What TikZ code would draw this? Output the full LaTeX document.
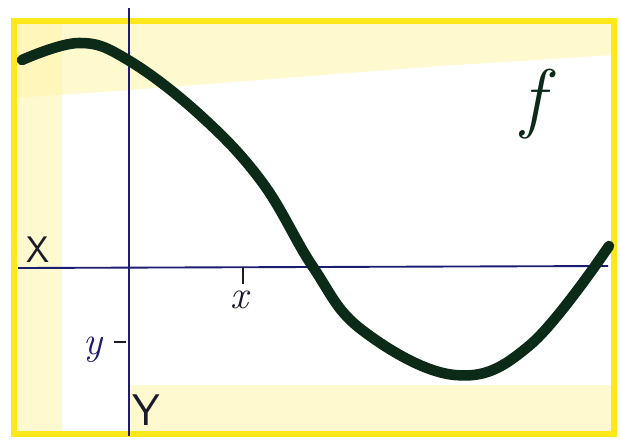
\documentclass[tikz,border=0pt]{standalone}
\usetikzlibrary{positioning}
\definecolor{frameYellow}{HTML}{FFE81A}
\definecolor{paleYellow}{HTML}{FFF5B0}
\definecolor{axisBlue}{HTML}{1C1C70}
\definecolor{curveGreen}{HTML}{0B2A18}
\definecolor{inkDark}{HTML}{1A1A2A}
\tikzset{
  framebox/.style={draw=frameYellow, line width=5pt},
  washband/.style={fill=paleYellow, draw=none, opacity=0.6},
  axisline/.style={draw=axisBlue, line width=1.6pt},
  tickline/.style={draw=inkDark, line width=1.8pt},
  curveline/.style={draw=curveGreen, line width=9pt, line cap=round, line join=round},
  axislabel/.style={font=\sffamily\fontsize{30}{32}\selectfont, text=inkDark, inner sep=0pt, scale=1.05},
  varlabel/.style={font=\itshape\fontsize{34}{36}\selectfont, inner sep=0pt},
}
\begin{document}
\begin{tikzpicture}[x=0.3mm, y=-0.3mm]
  \useasboundingbox (0,0) rectangle (621,439);
  \fill[white] (0,0) rectangle (621,439);
  % soft yellow wash of the paper
  \fill[washband] (14,21) rectangle (62,434);
  \fill[washband] (14,21) -- (614,21) -- (614,55) -- (440,66) -- (130,90) -- (14,98) -- cycle;
  \fill[washband] (130,385) -- (614,385) -- (614,434) -- (130,434) -- cycle;
  \draw[framebox] (14,21) rectangle (614,434);

  % axes
  \coordinate (xl) at (18,268);
  \coordinate (xr) at (608,266);
  \coordinate (yt) at (129,8);
  \coordinate (yb) at (129,436);
  \draw[axisline] (xl) -- (xr);
  \draw[axisline] (yt) -- (yb);

  % ticks
  \coordinate (xtick) at (243,267);
  \coordinate (xtickend) at (243,284);
  \coordinate (ytick) at (126,342);
  \coordinate (ytickend) at (114,342);
  \draw[tickline] (xtick) -- (xtickend);
  \draw[tickline] (ytick) -- (ytickend);

  \node[axislabel] (X) at (38,250) {X};
  \node[axislabel, scale=1.2] (Y) at (146,410) {Y};
  \node[varlabel, text=inkDark] (xval) at (239,300) {x};
  \node[varlabel, text=axisBlue] (yval) at (93,350) {y};
  \node[font=\itshape\fontsize{66}{66}\selectfont, text=curveGreen, inner sep=0pt] (f) at (533,104) {f};

  % the curve
  \draw[curveline] plot[smooth, tension=0.65] coordinates {
    (22,60) (79,43) (128,60) (200,115) (262,182) (313,267)
    (362,330) (455,375) (530,345) (609,246)};
\end{tikzpicture}
\end{document}
